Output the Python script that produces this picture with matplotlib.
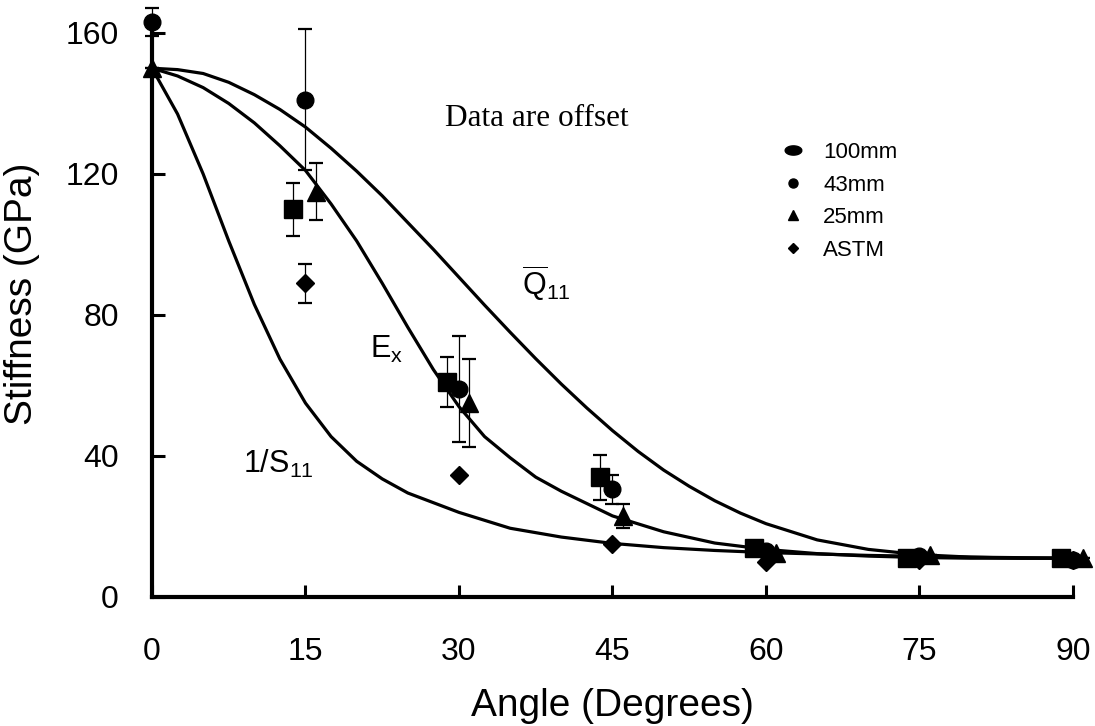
import numpy as np
import matplotlib
matplotlib.use("Agg")
import matplotlib.pyplot as plt
from matplotlib.path import Path
from matplotlib.lines import Line2D

plt.rcParams['font.family'] = ['Liberation Sans', 'DejaVu Sans']
plt.rcParams['mathtext.fontset'] = 'custom'
plt.rcParams['mathtext.rm'] = 'Liberation Sans'
plt.rcParams['mathtext.it'] = 'Liberation Sans:italic'
plt.rcParams['mathtext.bf'] = 'Liberation Sans:bold'

# Laminate-theory curves: stiffness (GPa) against fibre angle (degrees)
q11_angle = [0, 2.5, 5, 7.5, 10, 12.5, 15, 17.5, 20, 22.5, 25, 27.5, 30, 32.5, 35, 37.5,
             40, 42.5, 45, 47.5, 50, 52.5, 55, 57.5, 60, 65, 70, 75, 80, 85, 90]
q11_gpa = [150, 149.6, 148.5, 146, 142.5, 138.3, 133.3, 127.3, 120.8, 113.8, 106.2, 98.6,
           90.7, 82.8, 75.1, 67.6, 60.4, 53.6, 47.2, 41.3, 36, 31.4, 27.3, 23.8, 20.8,
           16.2, 13.5, 12, 11.3, 11, 11]

ex_angle = [0, 2.5, 5, 7.5, 10, 12.5, 15, 17.5, 20, 22.5, 25, 27.5, 30, 32.5, 35, 37.5,
            40, 45, 50, 55, 60, 65, 70, 75, 80, 90]
ex_gpa = [150, 147.8, 144.5, 140, 134.5, 128, 121, 111.5, 101, 89, 76.5, 64.5, 54, 45.5,
          39.5, 34, 30, 23, 18.5, 15.3, 13.5, 12.3, 11.6, 11.2, 11, 11]

s11_angle = [0, 2.5, 5, 7.5, 10, 12.5, 15, 17.5, 20, 22.5, 25, 30, 35, 40, 45, 50, 55, 60,
             70, 80, 90]
s11_gpa = [150, 137, 120, 101, 83, 67.5, 55, 45.5, 38.5, 33.5, 29.5, 24, 19.5, 17, 15.2, 14,
           13.2, 12.6, 11.8, 11.3, 11]

# Measured stiffness for each specimen gauge length (nan: hidden under other marks)
angles = [0, 15, 30, 45, 60, 75, 90]
mm100 = [np.nan, 110, 61, 34, 14, 11, 11]
mm100_err = [0, 7.5, 7, 6.4, 0, 0, 0]
mm43 = [163, 141, 59, 30.5, 13, 11.5, 10.5]
mm43_err = [4, 20, 15, 4, 0, 0, 0]
mm25 = [150, 115, 55, 23, 12.5, 12, 11]
mm25_err = [0, 8, 12.5, 3.5, 0, 0, 0]
astm = [np.nan, 89, 34.5, 15, 10, 10.5, 10.5]
astm_err = [0, 5.5, 0, 0, 0, 0, 0]

series_labels = ['100mm', '43mm', '25mm', 'ASTM']
x_ticks = [0, 15, 30, 45, 60, 75, 90]
y_ticks = [0, 40, 80, 120, 160]

fig = plt.figure(figsize=(10.95, 7.26), dpi=100)
ax = fig.add_axes([0.1388, 0.1777, 0.8411, 0.7769])

for xs, ys in [(q11_angle, q11_gpa), (ex_angle, ex_gpa), (s11_angle, s11_gpa)]:
    ax.plot(xs, ys, color='black', lw=2.3, solid_capstyle='round',
            solid_joinstyle='round', zorder=2)

ang = np.array(angles, dtype=float)
series = [
    (mm100, mm100_err, 's', 13, -1.2),
    (mm43, mm43_err, 'o', 12, 0.0),
    (mm25, mm25_err, '^', 13, 1.0),
    (astm, astm_err, 'D', 9, 0.0),
]
for vals, errs, mk, ms, shift in series:
    xpos = np.where(ang > 0, ang + shift, ang)
    ax.errorbar(xpos, vals, yerr=errs, fmt=mk, ms=ms, color='black', mfc='black',
                mec='black', ecolor='black', elinewidth=0.9, capsize=5, capthick=1.6,
                clip_on=False, zorder=3)

# Curve annotations
ax.text(36.2, 85.4, r'$\overline{\mathrm{Q}}_{\mathrm{11}}$', fontsize=22, ha='left', va='baseline')
ax.text(21.3, 67.8, r'$\mathrm{E_x}$', fontsize=22, ha='left', va='baseline')
ax.text(8.9, 35.2, r'$\mathrm{1/S_{11}}$', fontsize=22, ha='left', va='baseline')
ax.text(28.6, 133.6, 'Data are offset', fontsize=22.5, ha='left', va='baseline',
        family=['Liberation Serif', 'DejaVu Serif'])

# Legend
t = np.linspace(0, 2 * np.pi, 40)
oval = Path(np.column_stack([1.8 * np.cos(t), np.sin(t)]))
handles = [
    Line2D([], [], ls='none', marker=oval, ms=12, color='black'),
    Line2D([], [], ls='none', marker='o', ms=6.5, color='black'),
    Line2D([], [], ls='none', marker='^', ms=7, color='black'),
    Line2D([], [], ls='none', marker='D', ms=5, color='black'),
]
ax.legend(handles, series_labels, loc='upper left', bbox_to_anchor=(0.684, 0.8067),
          frameon=False, fontsize=16, handlelength=1.0, handletextpad=0.85,
          labelspacing=0.52, borderaxespad=0, borderpad=0)

ax.set_xlim(0, 90)
ax.set_ylim(0, 160)
ax.set_xticks(x_ticks)
ax.set_yticks(y_ticks)
ax.spines['top'].set_visible(False)
ax.spines['right'].set_visible(False)
for side in ('left', 'bottom'):
    ax.spines[side].set_linewidth(3)
ax.tick_params(axis='both', direction='in', length=9, width=2.2)
ax.tick_params(axis='y', labelsize=23, pad=24)
ax.tick_params(axis='x', labelsize=23, pad=29)

ax.set_xlabel('Angle (Degrees)', fontsize=28)
ax.set_ylabel('Stiffness (GPa)', fontsize=28)
ax.xaxis.set_label_coords(0.5, -0.162)
ax.yaxis.set_label_coords(-0.1216, 0.537)

fig.savefig('out.png', dpi=100)
